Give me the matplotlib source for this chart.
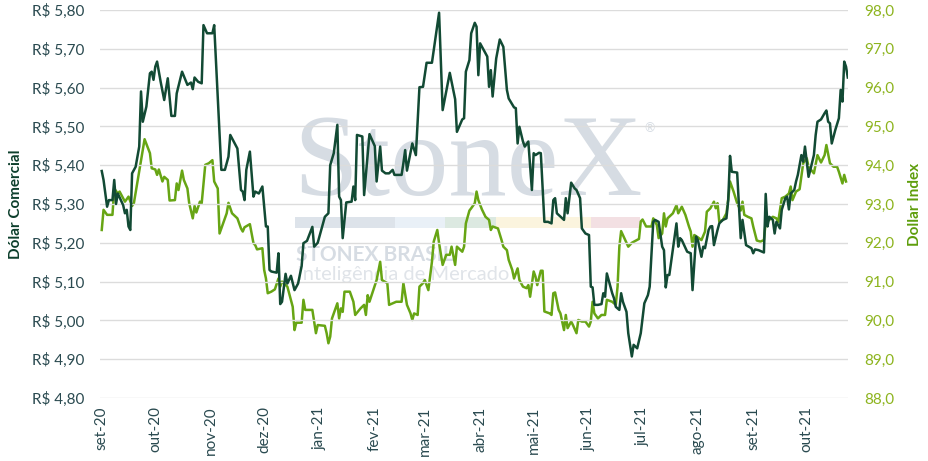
import numpy as np
import matplotlib
matplotlib.use("Agg")
import matplotlib.pyplot as plt
from matplotlib.patches import Rectangle

plt.rcParams['font.family'] = ['Lato', 'DejaVu Sans']

start = np.datetime64('2020-09-01')

# Dólar comercial (R$) - days since 2020-09-01, value
brl_day = [0, 1, 3, 4, 6, 7, 8, 9, 12, 13, 14, 15, 16, 17, 19, 21, 22, 23, 25, 27,
           28, 29, 30, 31, 33, 35, 37, 39, 41, 42, 45, 48, 50, 51, 52, 54, 56, 57, 59, 62,
           63, 67, 69, 71, 72, 76, 78, 79, 80, 81, 83, 85, 86, 88, 90, 92, 93, 94, 95, 98,
           99, 100, 101, 103, 104, 106, 108, 110, 112, 113, 115, 118, 119, 121, 125, 127, 128, 130, 132, 133,
           134, 135, 137, 140, 141, 142, 143, 146, 147, 150, 153, 154, 156, 157, 159, 161, 163, 164, 168, 169,
           170, 171, 174, 176, 178, 180, 182, 185, 189, 191, 195, 198, 199, 202, 203, 204, 206, 207, 209, 210,
           211, 212, 216, 217, 218, 219, 221, 223, 225, 227, 228, 231, 232, 233, 234, 236, 237, 239, 241, 242,
           243, 245, 246, 248, 250, 252, 253, 254, 255, 258, 259, 260, 261, 263, 265, 266, 268, 269, 271, 273,
           274, 275, 276, 278, 280, 281, 282, 283, 286, 287, 288, 290, 291, 292, 294, 295, 297, 298, 300, 302,
           304, 306, 307, 309, 310, 312, 314, 315, 316, 317, 318, 322, 323, 324, 325, 328, 330, 331, 333, 334,
           336, 337, 338, 340, 341, 342, 343, 345, 346, 348, 350, 351, 352, 353, 356, 358, 359, 361, 364, 365,
           366, 368, 371, 372, 373, 374, 376, 377, 378, 380, 381, 383, 384, 385, 386, 388, 389, 390, 392, 393,
           394, 396, 397, 399, 400, 401, 403, 405, 406, 407, 408, 409, 411, 413, 414, 415, 416, 417, 418]
brl_val = [5.385, 5.362, 5.293, 5.310, 5.310, 5.362, 5.300, 5.327, 5.297, 5.276, 5.285, 5.242, 5.233, 5.379, 5.396, 5.448, 5.590, 5.512, 5.551, 5.637,
           5.641, 5.620, 5.654, 5.667, 5.615, 5.568, 5.624, 5.527, 5.527, 5.585, 5.641, 5.607, 5.613, 5.596, 5.626, 5.615, 5.611, 5.761, 5.740, 5.740,
           5.761, 5.388, 5.388, 5.422, 5.478, 5.443, 5.336, 5.332, 5.310, 5.388, 5.435, 5.319, 5.332, 5.327, 5.345, 5.242, 5.242, 5.130, 5.126, 5.123,
           5.173, 5.042, 5.048, 5.120, 5.095, 5.115, 5.078, 5.095, 5.140, 5.199, 5.205, 5.241, 5.190, 5.200, 5.267, 5.276, 5.400, 5.431, 5.504, 5.319,
           5.310, 5.212, 5.304, 5.306, 5.345, 5.310, 5.478, 5.474, 5.323, 5.480, 5.449, 5.358, 5.448, 5.386, 5.379, 5.379, 5.388, 5.375, 5.375, 5.405,
           5.439, 5.386, 5.456, 5.426, 5.601, 5.602, 5.664, 5.664, 5.793, 5.542, 5.638, 5.570, 5.486, 5.518, 5.521, 5.641, 5.671, 5.740, 5.767, 5.757,
           5.632, 5.714, 5.680, 5.602, 5.645, 5.577, 5.675, 5.724, 5.705, 5.594, 5.572, 5.549, 5.547, 5.456, 5.499, 5.461, 5.448, 5.461, 5.336, 5.431,
           5.426, 5.432, 5.431, 5.254, 5.254, 5.250, 5.310, 5.315, 5.276, 5.263, 5.259, 5.315, 5.276, 5.355, 5.340, 5.336, 5.315, 5.237, 5.224, 5.220,
           5.087, 5.085, 5.040, 5.040, 5.042, 5.070, 5.061, 5.121, 5.070, 5.057, 5.035, 5.027, 5.070, 5.048, 5.022, 4.967, 4.907, 4.937, 4.928, 4.967,
           5.044, 5.065, 5.087, 5.254, 5.259, 5.254, 5.190, 5.181, 5.085, 5.117, 5.117, 5.250, 5.190, 5.212, 5.207, 5.177, 5.173, 5.078, 5.216, 5.207,
           5.164, 5.190, 5.186, 5.233, 5.242, 5.243, 5.194, 5.233, 5.250, 5.259, 5.263, 5.310, 5.424, 5.383, 5.381, 5.212, 5.259, 5.194, 5.186, 5.173,
           5.183, 5.181, 5.175, 5.326, 5.242, 5.267, 5.259, 5.224, 5.254, 5.237, 5.285, 5.315, 5.319, 5.286, 5.327, 5.336, 5.358, 5.375, 5.426, 5.409,
           5.448, 5.370, 5.388, 5.426, 5.478, 5.512, 5.518, 5.534, 5.541, 5.512, 5.508, 5.456, 5.491, 5.521, 5.594, 5.564, 5.667, 5.654, 5.626]

# Dollar Index (DXY)
dxy_day = [0, 1, 3, 6, 7, 9, 10, 13, 15, 17, 18, 23, 24, 27, 28, 30, 31, 32, 34, 35,
           37, 38, 41, 42, 43, 45, 46, 48, 49, 51, 52, 53, 55, 56, 58, 60, 62, 63, 65, 66,
           70, 71, 73, 76, 78, 79, 80, 83, 85, 86, 87, 90, 91, 92, 93, 95, 97, 99, 100, 101,
           104, 107, 108, 109, 112, 113, 114, 118, 120, 121, 125, 126, 127, 128, 129, 132, 133, 134, 135, 136,
           139, 141, 142, 145, 147, 148, 149, 150, 154, 156, 157, 160, 161, 163, 165, 168, 169, 171, 173, 174,
           175, 177, 178, 180, 181, 183, 185, 186, 188, 189, 191, 193, 195, 196, 198, 199, 202, 203, 204, 206,
           207, 209, 210, 211, 213, 215, 217, 218, 219, 222, 224, 225, 227, 228, 230, 231, 232, 233, 234, 236,
           238, 239, 240, 242, 243, 244, 246, 247, 248, 251, 252, 253, 254, 256, 257, 259, 260, 261, 263, 264,
           266, 267, 269, 271, 273, 274, 275, 276, 278, 280, 282, 283, 286, 288, 289, 290, 291, 293, 295, 297,
           299, 301, 302, 303, 305, 307, 308, 309, 311, 312, 314, 315, 316, 317, 320, 322, 323, 325, 327, 329,
           330, 331, 332, 334, 336, 338, 339, 341, 343, 344, 345, 346, 348, 350, 351, 352, 354, 356, 358, 359,
           360, 362, 364, 365, 367, 369, 371, 372, 374, 376, 378, 379, 381, 383, 385, 386, 387, 389, 391, 393,
           395, 396, 399, 401, 403, 405, 406, 408, 410, 412, 413, 415, 416, 417]
dxy_val = [92.33, 92.85, 92.72, 92.72, 93.40, 93.27, 93.32, 93.06, 93.19, 92.95, 93.02, 94.39, 94.67, 94.31, 93.92, 93.89, 93.75, 93.89, 93.58, 93.70,
           93.62, 93.09, 93.10, 93.53, 93.36, 93.86, 93.62, 93.40, 93.02, 92.63, 92.95, 92.78, 93.06, 93.02, 94.01, 94.05, 94.13, 93.58, 93.40, 92.24,
           92.76, 93.03, 92.76, 92.63, 92.37, 92.29, 92.40, 92.48, 91.99, 91.94, 91.83, 91.86, 91.30, 91.08, 90.70, 90.74, 90.80, 91.08, 90.87, 91.00,
           90.87, 90.35, 89.75, 89.94, 89.94, 90.53, 90.27, 90.27, 89.67, 89.88, 89.86, 89.67, 89.41, 89.58, 90.05, 90.44, 90.05, 90.31, 90.22, 90.74,
           90.74, 90.48, 90.14, 90.31, 90.40, 90.14, 90.65, 90.48, 91.04, 91.51, 91.04, 90.96, 90.40, 90.44, 90.48, 90.48, 90.96, 90.40, 90.18, 90.01,
           90.18, 90.14, 90.87, 90.96, 91.04, 90.78, 91.51, 92.03, 92.33, 91.99, 91.43, 91.69, 91.69, 91.90, 91.43, 91.90, 91.77, 91.90, 92.50, 92.83,
           92.89, 93.02, 93.32, 93.10, 92.86, 92.67, 92.59, 92.33, 92.42, 92.37, 92.07, 91.90, 91.81, 91.56, 91.30, 91.08, 91.21, 91.34, 91.04, 90.87,
           90.83, 90.91, 90.61, 91.26, 91.13, 90.91, 91.28, 91.28, 90.23, 90.18, 90.14, 90.70, 90.72, 90.27, 90.18, 89.75, 90.14, 89.80, 89.97, 89.88,
           89.67, 90.01, 89.97, 89.97, 89.84, 89.97, 90.48, 90.18, 90.05, 90.14, 90.14, 90.53, 90.48, 90.40, 90.87, 91.90, 92.30, 92.10, 91.90, 92.00,
           92.05, 92.10, 92.55, 92.60, 92.42, 92.42, 92.42, 92.63, 92.46, 92.12, 92.24, 92.76, 92.42, 92.63, 92.76, 92.97, 92.76, 92.93, 92.72, 92.42,
           92.29, 91.90, 92.20, 92.14, 92.07, 92.29, 92.80, 92.89, 93.06, 92.89, 93.02, 92.54, 92.59, 92.76, 93.12, 93.58, 93.32, 93.02, 92.83, 93.06,
           92.72, 92.67, 92.63, 92.42, 92.06, 92.03, 92.07, 92.54, 92.59, 92.67, 92.63, 92.54, 93.15, 93.19, 93.27, 93.45, 93.10, 93.32, 93.38, 94.05,
           94.18, 93.96, 93.79, 94.26, 94.07, 94.26, 94.52, 94.05, 93.96, 93.96, 93.83, 93.53, 93.75, 93.58]

month_starts = ['2020-09-01', '2020-10-01', '2020-11-01', '2020-12-01', '2021-01-01', '2021-02-01', '2021-03-01',
                '2021-04-01', '2021-05-01', '2021-06-01', '2021-07-01', '2021-08-01', '2021-09-01', '2021-10-01']
month_labels = ['set-20', 'out-20', 'nov-20', 'dez-20', 'jan-21', 'fev-21', 'mar-21',
                'abr-21', 'mai-21', 'jun-21', 'jul-21', 'ago-21', 'set-21', 'out-21']
brl_ticks = [4.8, 4.9, 5.0, 5.1, 5.2, 5.3, 5.4, 5.5, 5.6, 5.7, 5.8]
dxy_ticks = [88, 89, 90, 91, 92, 93, 94, 95, 96, 97, 98]

dark = '#124a34'
light = '#67a514'
left_txt = '#2a4a50'
right_txt = '#8db41e'
grid_c = '#dcdcdc'
wm = '#d6dce3'

brl_dates = start + np.array(brl_day, dtype='timedelta64[D]')
dxy_dates = start + np.array(dxy_day, dtype='timedelta64[D]')

fig = plt.figure(figsize=(9.29, 4.61), dpi=100)
ax = fig.add_axes([0.1076, 0.1367, 0.805, 0.8416])
ax2 = ax.twinx()
ax.set_zorder(ax2.get_zorder() + 1)
ax.patch.set_visible(False)

# watermark (behind the lines)
ax2.text(0.258, 0.523, 'StoneX', transform=ax.transAxes, fontsize=84, family='Liberation Serif',
         color=wm, ha='left', va='baseline', zorder=0)
ax2.text(0.728, 0.685, '®', transform=ax.transAxes, fontsize=9, color=wm, ha='left', va='baseline', zorder=0)
bar_segments = [(0.261, 0.395, '#dde3ea'), (0.395, 0.462, '#e9f0f7'), (0.462, 0.529, '#dce9e1'),
                (0.529, 0.656, '#fbf4de'), (0.656, 0.722, '#f3e0e3')]
for x0, x1, c in bar_segments:
    ax2.add_patch(Rectangle((x0, 0.437), x1 - x0, 0.029, transform=ax.transAxes, color=c, lw=0, zorder=0))
ax2.text(0.262, 0.352, 'STONEX BRASIL', transform=ax.transAxes, fontsize=15, fontweight='bold',
         color=wm, ha='left', va='baseline', zorder=0)
ax2.text(0.264, 0.303, 'Inteligência de Mercado', transform=ax.transAxes, fontsize=14.5,
         color='#e0e4e9', ha='left', va='baseline', zorder=0)

ax.plot(brl_dates, brl_val, color=dark, lw=1.8, solid_joinstyle='round')
ax2.plot(dxy_dates, dxy_val, color=light, lw=1.8, solid_joinstyle='round')

ax.set_ylim(4.8, 5.8)
ax2.set_ylim(88, 98)
ax.set_yticks(brl_ticks)
ax.set_yticklabels(['R$ ' + f'{v:.2f}'.replace('.', ',') for v in brl_ticks])
ax2.set_yticks(dxy_ticks)
ax2.set_yticklabels([f'{v:.1f}'.replace('.', ',') for v in dxy_ticks])

ax.set_xlim(start - np.timedelta64(1, 'D'), start + np.timedelta64(418, 'D'))
ax.set_xticks(np.array(month_starts, dtype='datetime64[D]'))
ax.set_xticklabels(month_labels, rotation=90)

ax2.grid(False)
ax.grid(axis='y', color=grid_c, lw=1)
ax.set_axisbelow(True)
for a in (ax, ax2):
    for s in a.spines.values():
        s.set_visible(False)
    a.tick_params(length=0)

ax.tick_params(axis='y', colors=left_txt, labelsize=11, pad=11)
ax.tick_params(axis='x', colors=left_txt, labelsize=11, pad=6)
ax2.tick_params(axis='y', colors=right_txt, labelsize=11, pad=12)

ax.set_ylabel('Dólar Comercial', color='#0d3f2c', fontsize=11, fontweight='bold', labelpad=7)
ax2.set_ylabel('Dollar Index', color='#5e9e0c', fontsize=11, fontweight='bold', labelpad=10, rotation=90)

fig.savefig('out.png', dpi=100)
